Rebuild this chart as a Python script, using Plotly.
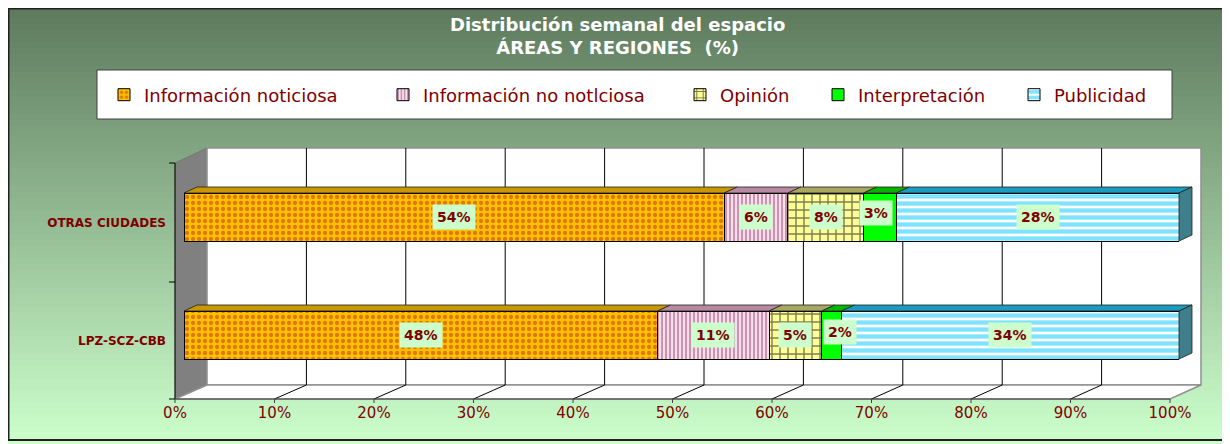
import plotly.graph_objects as go

# ---------------- data ----------------
categories = ["LPZ-SCZ-CBB", "OTRAS CIUDADES"]
series_names = ["Información noticiosa", "Información no notlciosa", "Opinión",
                "Interpretación", "Publicidad"]
info_noticiosa = [47.6, 54.3]
info_no_noticiosa = [11.2, 6.4]
opinion = [5.3, 7.6]
interpretacion = [2.0, 3.3]
publicidad = [33.9, 28.4]
x_tick_values = [0, 10, 20, 30, 40, 50, 60, 70, 80, 90, 100]
x_tick_labels = ["0%", "10%", "20%", "30%", "40%", "50%", "60%", "70%", "80%", "90%", "100%"]
title_lines = ["Distribución semanal del espacio", "ÁREAS Y REGIONES  (%)"]

series_values = [info_noticiosa, info_no_noticiosa, opinion, interpretacion, publicidad]

# ---------------- styles ----------------
OFF = 8                                   # page body margin
W, H = 1230, 444                          # window (screen) size
FW, FH = W - OFF, H - OFF                 # figure size
L, R, T, B = 184, 1179, 158, 394          # plot area in screen pixels
DARKRED = "#800000"
FONT = "DejaVu Sans"

styles = [
    dict(color="#ffc000", pattern=dict(shape=".", fgcolor="#c03010", bgcolor="#ffc000", size=6, solidity=0.4), top="#c99700"),
    dict(color="#f6e0ec", pattern=dict(shape="|", fgcolor="#993366", bgcolor="#f6e0ec", size=4, solidity=0.45), top="#b88aa2"),
    dict(color="#ffff99", pattern=dict(shape="+", fgcolor="#000000", bgcolor="#ffff99", size=8, solidity=0.32), top="#a8a860"),
    dict(color="#00ff00", pattern=None, top="#00b400"),
    dict(color="#ffffff", pattern=dict(shape="-", fgcolor="#00c8ff", bgcolor="#ffffff", size=7, solidity=0.62), top="#1a9bbf"),
]
legend_left_px = [104, 383, 680, 818, 1014]
label_shift = {(3, 1): (-4, 4), (3, 0): (8, 3)}   # (series, category) -> (xshift, yshift)


def px(x):
    return (x - L) / (R - L)


def py(y):
    return (B - y) / (B - T)


fig = go.Figure()

bar_width = 48 / 118
for i, (name, vals) in enumerate(zip(series_names, series_values)):
    st = styles[i]
    marker = dict(color=st["color"], line=dict(color="#000000", width=1))
    if st["pattern"] is not None:
        marker["pattern"] = st["pattern"]
    fig.add_trace(go.Bar(
        name=name, x=vals, y=categories, orientation="h", width=bar_width,
        marker=marker, legend="legend" if i == 0 else f"legend{i + 1}",
        hovertemplate="%{y}: %{x}%<extra>" + name + "</extra>",
    ))

shapes = []
# background gradient
N = 74
c0 = (92, 120, 92)
c1 = (204, 255, 204)
for k in range(N):
    f = k / (N - 1)
    col = "rgb(%d,%d,%d)" % tuple(round(a + (b - a) * f) for a, b in zip(c0, c1))
    y0 = k * H / N
    y1 = (k + 1) * H / N + 0.6
    shapes.append(dict(type="rect", xref="paper", yref="paper", layer="below",
                       x0=px(0), x1=px(W), y0=py(y0), y1=py(y1),
                       fillcolor=col, line=dict(width=0)))
# outer border
shapes.append(dict(type="rect", xref="paper", yref="paper", layer="below",
                   x0=px(OFF + 0.5), x1=px(1226), y0=py(OFF + 0.5), y1=py(440),
                   line=dict(color="#202020", width=2)))
# legend box
shapes.append(dict(type="rect", xref="paper", yref="paper", layer="below",
                   x0=px(97), x1=px(1172), y0=py(70), y1=py(119),
                   fillcolor="#ffffff", line=dict(color="#404040", width=1)))


def poly(pts, fill, line_col, lw=1, layer="below"):
    d = "M " + " L ".join(f"{px(a):.5f},{py(b):.5f}" for a, b in pts) + " Z"
    return dict(type="path", xref="paper", yref="paper", layer=layer, path=d,
                fillcolor=fill, line=dict(color=line_col, width=lw))


def seg(x0, y0, x1, y1, col="#000000", lw=1):
    return dict(type="line", xref="paper", yref="paper", layer="below",
                x0=px(x0), y0=py(y0), x1=px(x1), y1=py(y1), line=dict(color=col, width=lw))


FX0, FX1, FY = 175, 1170, 399      # front floor edge
BX0, BX1, BYT, BYB = 207, 1201, 148, 385   # back wall
shapes.append(poly([(FX0, 163), (BX0, BYT), (BX0, BYB), (FX0, FY)], "#808080", "#606060", 0.5))
shapes.append(dict(type="rect", xref="paper", yref="paper", layer="below",
                   x0=px(BX0), x1=px(BX1), y0=py(BYB), y1=py(BYT),
                   fillcolor="#ffffff", line=dict(color="#909090", width=1.5)))
shapes.append(poly([(FX0, FY), (FX1, FY), (BX1, BYB), (BX0, BYB)], "#ffffff", "#909090", 1.5))
step_b = (BX1 - BX0) / 10
step_f = (FX1 - FX0) / 10
for k in range(1, 10):
    shapes.append(seg(BX0 + k * step_b, BYT, BX0 + k * step_b, BYB))
    shapes.append(seg(FX0 + k * step_f, FY, BX0 + k * step_b, BYB))
for k in range(0, 11):
    shapes.append(seg(FX0 + k * step_f, FY, FX0 + k * step_f, FY + 4, "#404040"))
shapes.append(seg(FX0, 163, FX0, FY))
shapes.append(seg(FX0, FY, FX1, FY, "#404040"))
for yy in (163, 282, FY):
    shapes.append(seg(FX0 - 6, yy, FX0, yy))

# 3D faces of the bars: data values -> plot fractions (x range 0..100, y range -0.5..1.5)
def fx(v):
    return v / 100.0


def fy(c):
    return (c + 0.5) / 2.0


dxp = 13 / (R - L)          # depth offset in plot fractions
dyp = 6 / (B - T)
hw = bar_width / 2
annotations = []
for j, cat in enumerate(categories):
    start = 0.0
    for i, vals in enumerate(series_values):
        v = vals[j]
        x0, x1 = fx(start), fx(start + v)
        yt, yb = fy(j + hw), fy(j - hw)
        path = (f"M {x0},{yt} L {x1},{yt} L {x1 + dxp},{yt + dyp} L {x0 + dxp},{yt + dyp} Z")
        shapes.append(dict(type="path", xref="paper", yref="paper", layer="above", path=path,
                           fillcolor=styles[i]["top"], line=dict(color="#202020", width=0.8)))
        if i == len(series_values) - 1:
            side = (f"M {x1},{yb} L {x1},{yt} L {x1 + dxp},{yt + dyp} L {x1 + dxp},{yb + dyp} Z")
            shapes.append(dict(type="path", xref="paper", yref="paper", layer="above", path=side,
                               fillcolor="#3f7f8c", line=dict(color="#202020", width=0.8)))
        xs, ys = label_shift.get((i, j), (0, 0))
        annotations.append(dict(x=start + v / 2, y=cat, xref="x", yref="y",
                                text=f"{round(v)}%", showarrow=False,
                                bgcolor="#ccffcc", borderpad=4, xshift=xs, yshift=ys,
                                font=dict(family=FONT, size=14, color=DARKRED, weight="bold")))
        start += v

# title (two lines, one text block)
annotations.append(dict(x=px(617.5), y=py(36), xref="paper", yref="paper",
                        xanchor="center", yanchor="middle", showarrow=False,
                        text="<br>".join(title_lines), align="center",
                        font=dict(family=FONT, size=18, color="#ffffff", weight="bold")))

layout_legends = {}
for i, lx in enumerate(legend_left_px):
    key = "legend" if i == 0 else f"legend{i + 1}"
    layout_legends[key] = dict(x=px(lx), xanchor="left", y=py(95), yanchor="middle",
                               orientation="h", bgcolor="rgba(0,0,0,0)", borderwidth=0,
                               font=dict(family=FONT, size=18, color=DARKRED))

fig.update_layout(
    width=FW, height=FH,
    margin=dict(l=L - OFF, r=W - R, t=T - OFF, b=H - B, pad=0),
    paper_bgcolor="#ccffcc", plot_bgcolor="rgba(0,0,0,0)",
    barmode="stack",
    xaxis=dict(range=[0, 100], tickvals=x_tick_values, ticktext=x_tick_labels,
               showgrid=False, zeroline=False, showline=False, ticks="",
               ticklabelshift=-9, ticklabelstandoff=8, fixedrange=True,
               tickfont=dict(family=FONT, size=15, color=DARKRED)),
    yaxis=dict(type="category", categoryorder="array", categoryarray=categories,
               range=[-0.5, 1.5], showgrid=False, zeroline=False, showline=False, ticks="",
               ticklabelstandoff=17, ticklabelshift=6, fixedrange=True,
               tickfont=dict(family=FONT, size=12, color=DARKRED, weight="bold")),
    shapes=shapes,
    annotations=annotations,
    showlegend=True,
    **layout_legends,
)

fig.write_html("out.html")
